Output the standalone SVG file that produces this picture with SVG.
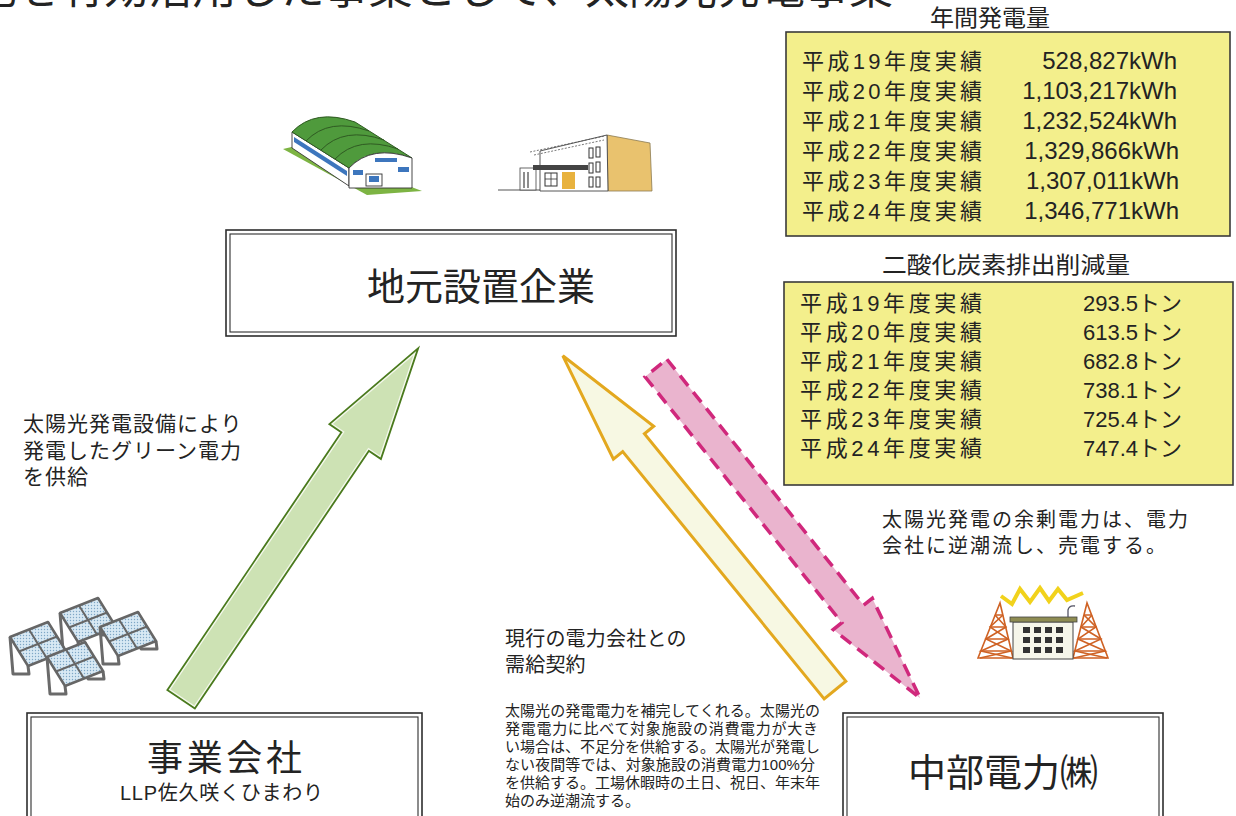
<svg xmlns="http://www.w3.org/2000/svg" width="1236" height="816" viewBox="0 0 1236 816">
  <style>
    .jp { font-family: "Noto Sans CJK JP", sans-serif; fill: #232323; }
    .mix { font-family: "Liberation Sans", "Noto Sans CJK JP", sans-serif; fill: #232323; }
    .frame { fill: none; stroke: #2e2e2e; }
    .panel { fill: #f3ef8c; stroke: #3a3a3a; stroke-width: 1.6; }
    .leg { fill: none; stroke: #6a6a6a; stroke-width: 3; stroke-linejoin: round; }
    .tower { fill: none; stroke: #cf6224; stroke-width: 1.6; }
  </style>
  <defs>
    <pattern id="cellDots" width="3" height="3" patternUnits="userSpaceOnUse">
      <rect width="3" height="3" fill="#d8e9f4"/>
      <circle cx="1.5" cy="1.5" r="0.7" fill="#7ea7c6"/>
    </pattern>
    <!-- one tilted 2x2 solar array on its stand -->
    <g id="pvArray">
      <polyline class="leg" points="0,0 3,37 19,37 18,29"/>
      <polyline class="leg" points="38,-15 41,22 57,22 56,14"/>
      <path d="M0,0 L38,-15 L56,14 L18,29 Z" fill="url(#cellDots)" stroke="#666" stroke-width="2.5" stroke-linejoin="round"/>
      <path d="M19,-7.5 L37,21.5 M9,14.5 L47,-0.5" stroke="#666" stroke-width="2"/>
    </g>
  </defs>

  <rect width="1236" height="816" fill="#ffffff"/>

  <!-- page heading, mostly above the top edge -->
  <text class="jp" x="893" y="4" font-size="44" text-anchor="end">遊休地を有効活用した事業として、太陽光発電事業</text>

  <!-- annual generation table -->
  <g id="annual-output">
    <text class="jp" x="930" y="26" font-size="23" textLength="120" lengthAdjust="spacingAndGlyphs">年間発電量</text>
    <rect class="panel" x="786" y="32" width="444" height="204"/>
    <g class="mix" font-size="22">
      <text x="802" y="69" textLength="180">平成19年度実績</text>
      <text x="802" y="99" textLength="180">平成20年度実績</text>
      <text x="802" y="129" textLength="180">平成21年度実績</text>
      <text x="802" y="159" textLength="180">平成22年度実績</text>
      <text x="802" y="189" textLength="180">平成23年度実績</text>
      <text x="802" y="219" textLength="180">平成24年度実績</text>
    </g>
    <g class="mix" font-size="24" text-anchor="end">
      <text x="1177" y="69">528,827kWh</text>
      <text x="1177" y="99">1,103,217kWh</text>
      <text x="1177" y="129">1,232,524kWh</text>
      <text x="1179" y="159">1,329,866kWh</text>
      <text x="1179" y="189">1,307,011kWh</text>
      <text x="1179" y="219">1,346,771kWh</text>
    </g>
  </g>

  <!-- CO2 reduction table -->
  <g id="co2-reduction">
    <text class="jp" x="882" y="273" font-size="23" textLength="248" lengthAdjust="spacingAndGlyphs">二酸化炭素排出削減量</text>
    <rect class="panel" x="784" y="282" width="449" height="203"/>
    <g class="mix" font-size="22">
      <text x="800" y="311" textLength="182">平成19年度実績</text>
      <text x="800" y="340" textLength="182">平成20年度実績</text>
      <text x="800" y="369" textLength="182">平成21年度実績</text>
      <text x="800" y="398" textLength="182">平成22年度実績</text>
      <text x="800" y="427" textLength="182">平成23年度実績</text>
      <text x="800" y="456" textLength="182">平成24年度実績</text>
    </g>
    <g class="mix" font-size="22" text-anchor="end">
      <text x="1182" y="311">293.5トン</text>
      <text x="1182" y="340">613.5トン</text>
      <text x="1182" y="369">682.8トン</text>
      <text x="1182" y="398">738.1トン</text>
      <text x="1182" y="427">725.4トン</text>
      <text x="1182" y="456">747.4トン</text>
    </g>
  </g>

  <!-- factory with barrel roof -->
  <g id="factory-icon">
    <polygon points="283,149 367,195 422,191 300,145" fill="#7db443"/>
    <polygon points="292,132 349,168 349,186 292,148" fill="#ffffff" stroke="#333" stroke-width="0.9"/>
    <polygon points="294,137 347,171 347,176 294,142" fill="#3d76bd"/>
    <path d="M292,132 Q315,108 355,122 L412,158 Q372,144 349,168 Z" fill="#4f9a3c" stroke="#2f5a22" stroke-width="1"/>
    <path d="M335,159 Q358,135 398,149 M321,150 Q344,126 384,140 M306,141 Q329,117 369,131" fill="none" stroke="#2f5a22" stroke-width="1"/>
    <path d="M349,168 Q372,144 412,158 L412,188 L349,188 Z" fill="#ffffff" stroke="#333" stroke-width="0.9"/>
    <rect x="353" y="170" width="10" height="5" fill="#3d76bd"/>
    <rect x="375" y="158" width="22" height="4" fill="#3d76bd"/>
    <rect x="398" y="167" width="11" height="5" fill="#3d76bd"/>
    <rect x="366" y="174" width="16" height="12" fill="#ffffff" stroke="#333" stroke-width="0.9"/>
    <rect x="369" y="176" width="10" height="6" fill="#3d76bd"/>
  </g>

  <!-- office building -->
  <g id="office-icon">
    <line x1="498" y1="190" x2="650" y2="190" stroke="#555" stroke-width="1.2"/>
    <polygon points="607,135 650,143 652,191 608,191" fill="#e9c26e" stroke="#8a7a50" stroke-width="0.8"/>
    <polygon points="540,151 607,135 608,191 540,191" fill="#ffffff" stroke="#444" stroke-width="0.9"/>
    <path d="M530,152 L605,136 M534,155 L604,140" stroke="#555" stroke-width="0.8" stroke-dasharray="2 1.5"/>
    <g fill="none" stroke="#333" stroke-width="1">
      <rect x="589" y="148" width="4" height="10"/>
      <rect x="596" y="147" width="4" height="10"/>
      <rect x="589" y="163" width="4" height="10"/>
      <rect x="596" y="162" width="4" height="10"/>
      <rect x="589" y="177" width="4" height="10"/>
      <rect x="596" y="177" width="4" height="10"/>
    </g>
    <rect x="520" y="168" width="16" height="22" fill="#ffffff" stroke="#444" stroke-width="0.8"/>
    <path d="M524,172 V188 M528,172 V188" stroke="#444" stroke-width="1.2"/>
    <rect x="533" y="165" width="55" height="5" fill="#444"/>
    <rect x="545" y="173" width="12" height="13" fill="none" stroke="#333" stroke-width="1"/>
    <path d="M551,173 V186 M545,179 H557" stroke="#333" stroke-width="0.8"/>
    <rect x="562" y="172" width="13" height="17" fill="#e8b23e"/>
  </g>

  <!-- solar arrays -->
  <g id="solar-icon">
    <use href="#pvArray" transform="translate(60,613)"/>
    <use href="#pvArray" transform="translate(10,637)"/>
    <use href="#pvArray" transform="translate(100,627)"/>
    <use href="#pvArray" transform="translate(47,657)"/>
  </g>

  <!-- power company: building between two pylons -->
  <g id="utility-icon">
    <polyline points="1001,596 1012,604 1020,589 1030,602 1040,588 1049,601 1058,589 1067,600 1083,593" fill="none" stroke="#f1d21c" stroke-width="4" stroke-linejoin="miter"/>
    <polygon class="tower" points="978,658 1000,603 1013,658"/>
    <polyline class="tower" points="995,615 1006,627 986,639 1011,651 980,658"/>
    <polyline class="tower" points="1003,615 990,627 1008,639 981,651 1012,658"/>
    <path class="tower" d="M995,615 H1003 M990,627 H1006 M986,639 H1008 M981,651 H1011"/>
    <polygon class="tower" points="1073,658 1087,603 1108,658"/>
    <polyline class="tower" points="1084,615 1096,627 1078,639 1105,651 1074,658"/>
    <polyline class="tower" points="1092,615 1081,627 1101,639 1075,651 1107,658"/>
    <path class="tower" d="M1084,615 H1092 M1081,627 H1096 M1078,639 H1101 M1075,651 H1105"/>
    <rect x="1013" y="622" width="60" height="37" fill="#f6f6ea" stroke="#444" stroke-width="1"/>
    <rect x="1010" y="617" width="67" height="5" fill="#8e8c52" stroke="#444" stroke-width="0.8"/>
    <path d="M1068,617 V610 Q1069,605 1075,606" fill="none" stroke="#556" stroke-width="1.3"/>
    <g fill="#333">
      <rect x="1023" y="627" width="7" height="6"/><rect x="1034" y="627" width="7" height="6"/><rect x="1045" y="627" width="7" height="6"/><rect x="1056" y="627" width="7" height="6"/>
      <rect x="1023" y="637" width="7" height="6"/><rect x="1034" y="637" width="7" height="6"/><rect x="1045" y="637" width="7" height="6"/><rect x="1056" y="637" width="7" height="6"/>
      <rect x="1023" y="647" width="7" height="6"/><rect x="1034" y="647" width="7" height="6"/><rect x="1045" y="647" width="7" height="6"/><rect x="1056" y="647" width="7" height="6"/>
    </g>
  </g>

  <!-- local host company -->
  <g id="host-company">
    <rect class="frame" x="226" y="230" width="450" height="106" stroke-width="1.6"/>
    <rect class="frame" x="230" y="234" width="442" height="98" stroke-width="1.1"/>
    <text class="jp" x="481" y="300" font-size="38" text-anchor="middle">地元設置企業</text>
  </g>

  <!-- operating company -->
  <g id="operator">
    <rect class="frame" x="27" y="713" width="395" height="130" stroke-width="1.6"/>
    <rect class="frame" x="31" y="717" width="387" height="122" stroke-width="1.1"/>
    <text class="jp" x="147" y="771" font-size="36" textLength="155">事業会社</text>
    <text class="mix" x="120" y="800" font-size="20" textLength="203">LLP佐久咲くひまわり</text>
  </g>

  <!-- electric utility -->
  <g id="utility">
    <rect class="frame" x="843" y="713" width="320" height="130" stroke-width="1.6"/>
    <rect class="frame" x="847" y="717" width="312" height="122" stroke-width="1.1"/>
    <text class="jp" x="1003" y="786" font-size="38" text-anchor="middle">中部電力㈱</text>
  </g>

  <!-- flows between the parties -->
  <g id="connectors">
    <!-- green power supplied to the host -->
    <polygon points="0,-15 311,-15 311,-29 416,0 311,29 311,15 0,15" transform="translate(182,698) rotate(-55.97)" fill="none" stroke="#4a7a1d" stroke-width="5" stroke-linejoin="miter"/>
    <polygon points="0,-15 311,-15 311,-29 416,0 311,29 311,15 0,15" transform="translate(182,698) rotate(-55.97)" fill="#cde2b4" stroke="#f4f8ec" stroke-width="1.4"/>
    <!-- supply contract from the utility -->
    <polygon points="0,-14 319,-14 319,-26 431,0 319,26 319,14 0,14" transform="translate(835,690) rotate(-129.16)" fill="#f7f8e3" stroke="#e3a81f" stroke-width="3"/>
    <!-- surplus sold back to the utility -->
    <polygon points="0,-14 315,-14 315,-25 423,0 315,25 315,14 0,14" transform="translate(656,368) rotate(51.34)" fill="#eab4ce" stroke="#d0287c" stroke-width="3.5" stroke-dasharray="13 8"/>
  </g>

  <!-- captions -->
  <g class="jp" font-size="21" letter-spacing="1">
    <text x="23" y="431">太陽光発電設備により</text>
    <text x="23" y="458">発電したグリーン電力</text>
    <text x="23" y="484">を供給</text>
  </g>
  <g class="jp" font-size="20" letter-spacing="2">
    <text x="882" y="527">太陽光発電の余剰電力は、電力</text>
    <text x="882" y="553">会社に逆潮流し、売電する。</text>
  </g>
  <g class="jp" font-size="20" letter-spacing="0.2">
    <text x="505" y="646">現行の電力会社との</text>
    <text x="505" y="672">需給契約</text>
  </g>
  <g class="mix" font-size="15">
    <text x="505" y="716" textLength="315">太陽光の発電電力を補完してくれる。太陽光の</text>
    <text x="505" y="734" textLength="313">発電電力に比べて対象施設の消費電力が大き</text>
    <text x="505" y="752" textLength="315">い場合は、不足分を供給する。太陽光が発電し</text>
    <text x="505" y="770" textLength="310">ない夜間等では、対象施設の消費電力100%分</text>
    <text x="505" y="788" textLength="315">を供給する。工場休暇時の土日、祝日、年末年</text>
    <text x="505" y="806">始のみ逆潮流する。</text>
  </g>
</svg>
